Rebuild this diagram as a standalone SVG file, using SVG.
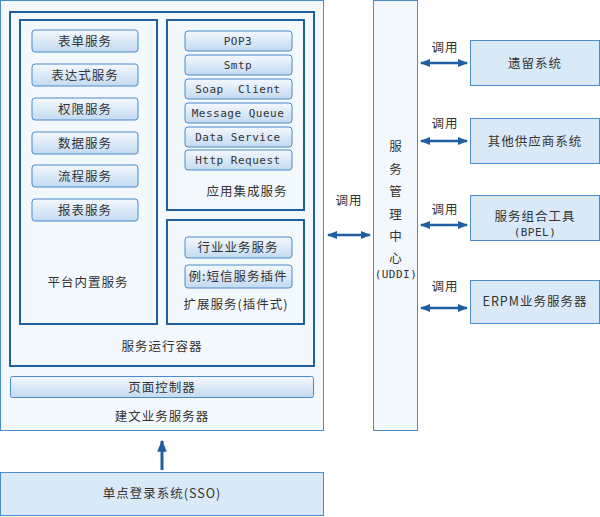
<svg xmlns="http://www.w3.org/2000/svg" width="600" height="517" viewBox="0 0 600 517">
<defs>
<linearGradient id="btn" x1="0" y1="0" x2="0" y2="1"><stop offset="0" stop-color="#f4f9fe"/><stop offset="0.5" stop-color="#dbe9f7"/><stop offset="1" stop-color="#c4daf0"/></linearGradient>
<marker id="ah" viewBox="0 0 10 10" refX="9" refY="5" markerWidth="4" markerHeight="4" orient="auto-start-reverse"><path d="M0,1 L10,5 L0,9 z" fill="#1f5fa0"/></marker>
</defs>
<style>
text{font-family:"Noto Sans CJK SC","Noto Sans",sans-serif;font-size:12.5px;fill:#333;text-anchor:middle;letter-spacing:1px}
.m{font-family:"DejaVu Sans Mono","Noto Sans CJK SC",monospace;font-size:11px;letter-spacing:0.5px}
.lt{fill:#f3f8fd;stroke:#4a8ccb;stroke-width:1}
.dk{fill:none;stroke:#1f5fa0;stroke-width:2}
.b{fill:url(#btn);stroke:#4a8ccb;stroke-width:1}
.rb{fill:#d9e9f8;stroke:#4a8ccb;stroke-width:1}
.ar{stroke:#1f5fa0;stroke-width:2.5;fill:none;marker-start:url(#ah);marker-end:url(#ah)}
.ua{stroke:#1f5fa0;stroke-width:3;fill:none;marker-end:url(#ah)}
</style>
<g id="server"><rect class="lt" x="0.5" y="0.5" width="323" height="430"/><text x="162" y="421" font-size="13">建文业务服务器</text></g>
<g id="container"><rect class="dk" x="10" y="12" width="304" height="354"/><text x="162" y="351">服务运行容器</text></g>
<g id="platform"><rect class="dk" x="20" y="20" width="137" height="304"/><text x="88" y="287">平台内置服务</text>
<rect class="b" x="32" y="30" width="106" height="22" rx="3"/><text x="85" y="46">表单服务</text>
<rect class="b" x="32" y="64" width="106" height="22" rx="3"/><text x="85" y="80">表达式服务</text>
<rect class="b" x="32" y="98" width="106" height="22" rx="3"/><text x="85" y="114">权限服务</text>
<rect class="b" x="32" y="132" width="106" height="22" rx="3"/><text x="85" y="148">数据服务</text>
<rect class="b" x="32" y="165" width="106" height="22" rx="3"/><text x="85" y="181">流程服务</text>
<rect class="b" x="32" y="199" width="106" height="22" rx="3"/><text x="85" y="215">报表服务</text></g>
<g id="integration"><rect class="dk" x="167" y="20" width="137" height="190"/><text x="247" y="196">应用集成服务</text>
<rect class="b" x="185" y="31" width="107" height="20" rx="3"/><text class="m" x="238" y="45">POP3</text>
<rect class="b" x="185" y="55" width="107" height="20" rx="3"/><text class="m" x="238" y="69">Smtp</text>
<rect class="b" x="185" y="79" width="107" height="20" rx="3"/><text class="m" x="238" y="93" xml:space="preserve">Soap  Client</text>
<rect class="b" x="185" y="103" width="107" height="20" rx="3"/><text class="m" x="238" y="117" letter-spacing="0">Message Queue</text>
<rect class="b" x="185" y="127" width="107" height="20" rx="3"/><text class="m" x="238" y="141">Data Service</text>
<rect class="b" x="185" y="150" width="107" height="20" rx="3"/><text class="m" x="238" y="164" letter-spacing="0">Http Request</text></g>
<g id="extension"><rect class="dk" x="167" y="220" width="137" height="104"/><text x="236" y="309" letter-spacing="0.5">扩展服务(插件式)</text>
<rect class="b" x="185" y="237" width="107" height="21" rx="3"/><text x="238" y="252">行业业务服务</text>
<rect class="b" x="185" y="265" width="107" height="23" rx="3"/><text x="238" y="281" letter-spacing="0">例:短信服务插件</text></g>
<g id="page"><rect class="b" x="10.5" y="376.5" width="303" height="21" rx="2"/><text x="162" y="392">页面控制器</text></g>
<g id="sso"><rect class="rb" x="0.5" y="472.5" width="323" height="43"/><text x="162" y="498" font-size="13">单点登录系统(SSO)</text></g>
<g id="uddi"><rect class="lt" x="373.5" y="0.5" width="44" height="430"/>
<text x="396" y="151" font-size="13" letter-spacing="0">服</text><text x="396" y="174" font-size="13" letter-spacing="0">务</text><text x="396" y="196" font-size="13" letter-spacing="0">管</text><text x="396" y="219" font-size="13" letter-spacing="0">理</text><text x="396" y="241" font-size="13" letter-spacing="0">中</text><text x="396" y="263" font-size="13" letter-spacing="0">心</text><text class="m" x="396" y="278" font-size="10">(UDDI)</text></g>
<g id="legacy"><rect class="rb" x="470.5" y="40.5" width="129" height="45"/><text x="535" y="68" font-size="13">遗留系统</text></g>
<g id="supplier"><rect class="rb" x="470.5" y="118.5" width="129" height="45"/><text x="535" y="146" font-size="13">其他供应商系统</text></g>
<g id="bpel"><rect class="rb" x="470.5" y="195.5" width="129" height="45"/><text x="535" y="221" font-size="13">服务组合工具</text><text class="m" x="535" y="236">(BPEL)</text></g>
<g id="erpm"><rect class="rb" x="470.5" y="280.5" width="129" height="43"/><text x="535" y="306" font-size="13">ERPM业务服务器</text></g>
<g id="connectors">
<line class="ua" x1="162" y1="470" x2="162" y2="441"/>
<line class="ar" x1="328" y1="235" x2="370" y2="235"/><text x="349" y="205">调用</text>
<line class="ar" x1="421" y1="63" x2="467" y2="63"/><text x="445" y="52">调用</text>
<line class="ar" x1="421" y1="141" x2="467" y2="141"/><text x="445" y="128">调用</text>
<line class="ar" x1="421" y1="225" x2="467" y2="225"/><text x="445" y="214">调用</text>
<line class="ar" x1="421" y1="308" x2="467" y2="308"/><text x="445" y="291">调用</text>
</g>
</svg>
